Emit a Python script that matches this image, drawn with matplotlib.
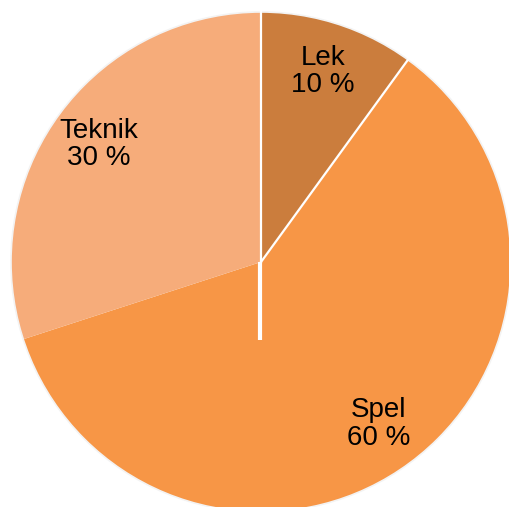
import numpy as np
import matplotlib
matplotlib.use("Agg")
import matplotlib.pyplot as plt

categories = ["Lek", "Spel", "Teknik"]
shares = [10, 60, 30]
colors = ["#CB7D3D", "#F79646", "#F6AC7A"]

plt.rcParams['font.family'] = ['Liberation Sans', 'DejaVu Sans']

fig = plt.figure(figsize=(5.10, 5.07), dpi=100)
ax = fig.add_axes([0, 0, 1, 1])

cx, cy, r = 261, 245, 250
labels = [f"{c}\n{v} %" for c, v in zip(categories, shares)]
wedges, texts = ax.pie(shares, labels=labels, colors=colors, startangle=90,
                       counterclock=False, center=(cx, cy), radius=r,
                       labeldistance=0.8, wedgeprops=dict(linewidth=0),
                       textprops=dict(fontsize=20, color='black'))
for t in texts:
    t.set_horizontalalignment('center')
    t.set_linespacing(1.07)

# faint rim
ax.add_patch(plt.Circle((cx, cy), r, fill=False, edgecolor='#F3F3F3', linewidth=1.2))

# white separators at the start of the first two slices
cum = np.cumsum([0] + shares[:-1]) / sum(shares)
for f in cum[:2]:
    a = np.deg2rad(90 - 360 * f)
    ax.plot([cx, cx + r * np.cos(a)], [cy, cy + r * np.sin(a)], color='white', linewidth=1.6)

# short white stub below the centre
ax.plot([cx - 1, cx - 1], [cy, cy - 0.31 * r], color='white', linewidth=3, solid_capstyle='butt')

ax.set_xlim(0, 510)
ax.set_ylim(0, 507)
ax.set_aspect('equal')
ax.axis('off')

fig.savefig("out.png", dpi=100)
